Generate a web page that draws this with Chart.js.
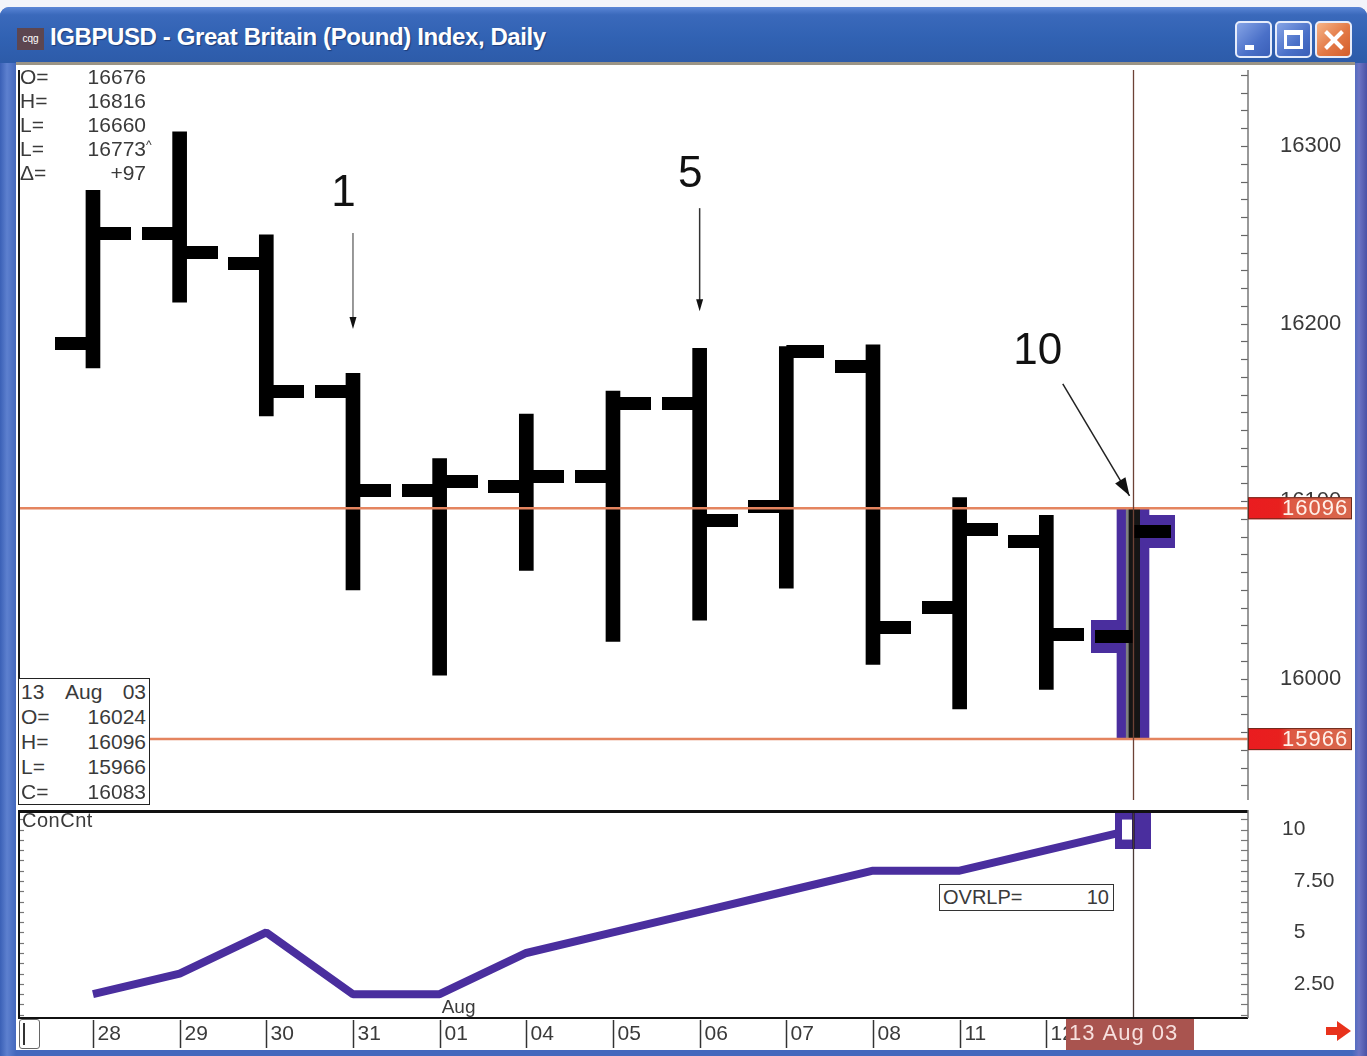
<!DOCTYPE html>
<html>
<head>
<meta charset="utf-8">
<title>IGBPUSD - Great Britain (Pound) Index, Daily</title>
<script src="https://cdn.jsdelivr.net/npm/chart.js@4.4.1/dist/chart.umd.min.js"></script>
<style>
  html, body { margin:0; padding:0; }
  body { width:1367px; height:1056px; position:relative; overflow:hidden; background:#f2f4fa; font-family:"Liberation Sans", Arial, sans-serif; }
  #win { position:absolute; left:0; top:7px; width:1367px; height:1049px; border-radius:9px 9px 0 0;
         background:linear-gradient(90deg,#3a60b6 0px,#5d80cf 7px,#4468bd 16px,#4468bd 1352px,#6c74c4 1359px,#4a52a6 1367px); }
  #titlebar { position:absolute; left:0; top:7px; width:1367px; height:56px; border-radius:9px 9px 0 0;
         background:linear-gradient(180deg,#5a86d6 0%,#3a69bb 14%,#3162b3 55%,#2d5ba9 100%); }
  #icon { position:absolute; left:17px; top:28px; width:27px; height:22px; background:#5d4650; color:#fff; font-size:10px; line-height:22px; text-align:center; }
  #title { position:absolute; left:50px; top:23px; color:#fff; font-family:"Liberation Sans", Arial, sans-serif; font-weight:bold; font-size:24px; letter-spacing:-0.4px; text-shadow:1px 1px 1px #1d3c78; white-space:nowrap; }
  .btn { position:absolute; top:21px; width:33px; height:33px; border:2px solid #e6ecfb; border-radius:5px; box-sizing:content-box;
         background:linear-gradient(135deg,#86a4e6 0%,#4a70c8 60%,#3a5fb8 100%); }
  #bmin { left:1235px; } #bmax { left:1275px; }
  #bclose { left:1315px; background:linear-gradient(135deg,#f6b487 0%,#e27845 55%,#d45e2c 100%); }
  #bmin i { position:absolute; left:8px; top:22px; width:9px; height:5px; background:#fff; }
  #bmax i { position:absolute; left:7px; top:7px; border:3px solid #fff; border-top-width:5px; box-sizing:border-box; width:19px; height:19px; }
  #bclose i, #bclose b { position:absolute; left:15px; top:5px; width:4px; height:24px; background:#fff; }
  #bclose i { transform:rotate(45deg); } #bclose b { transform:rotate(-45deg); }
  #inner { position:absolute; left:16px; top:62px; width:1339px; height:988px; background:#fff; border-top:3px solid #9b9486; box-sizing:border-box; }
  canvas { position:absolute; left:0; }
  #c1 { top:65px; } #c2 { top:805px; }
  .ov { position:absolute; color:#3a3a3a; font-size:21px; line-height:24px; white-space:nowrap; }
  .row { position:relative; height:24px; }
  .row .k { position:absolute; left:0; }
  .row .v { position:absolute; right:0; }
  #info1 { left:20px; top:65px; width:126px; }
  #info2 { left:18px; top:678px; width:132px; height:127px; border:1px solid #222; background:#fff; padding:0 3px 0 2px; box-sizing:border-box; }
  #info2 .row { height:25px; line-height:25px; }
  #concnt { left:22px; top:808px; font-size:20px; letter-spacing:0.5px; }
  #ovrlp { left:939px; top:884px; width:175px; height:27px; border:1px solid #333; background:#fff; box-sizing:border-box; font-size:20px; line-height:25px; }
  #ovrlp .k { position:absolute; left:3px; } #ovrlp .v { position:absolute; right:4px; }
  #scrollbox { position:absolute; left:19px; top:1019px; width:21px; height:30px; border:1.5px solid #666; border-radius:3px; background:#fff; box-sizing:border-box; }
  #scrollbox i { position:absolute; left:3px; top:3px; width:2px; height:22px; background:#333; }
  #arrow i { position:absolute; left:1326px; top:1027px; width:12px; height:8px; background:#e8321c; }
  #arrow b { position:absolute; left:1337px; top:1021px; width:0; height:0; border-left:14px solid #e8321c; border-top:10px solid transparent; border-bottom:10px solid transparent; }
</style>
</head>
<body>
<div id="win"></div>
<div id="titlebar"></div>
<div id="icon">cqg</div>
<div id="title">IGBPUSD - Great Britain (Pound) Index, Daily</div>
<div class="btn" id="bmin"><i></i></div>
<div class="btn" id="bmax"><i></i></div>
<div class="btn" id="bclose"><i></i><b></b></div>
<div id="inner"></div>
<canvas id="c1" width="1367" height="740"></canvas>
<canvas id="c2" width="1367" height="245"></canvas>

<div class="ov" id="info1">
  <div class="row"><span class="k">O=</span><span class="v">16676</span></div>
  <div class="row"><span class="k">H=</span><span class="v">16816</span></div>
  <div class="row"><span class="k">L=</span><span class="v">16660</span></div>
  <div class="row"><span class="k">L=</span><span class="v">16773<span style="position:absolute;left:100%;top:-4px;font-size:12px;">^</span></span></div>
  <div class="row"><span class="k">Δ=</span><span class="v">+97</span></div>
</div>
<div class="ov" id="info2">
  <div class="row"><span class="k">13</span><span style="position:absolute;left:44px;">Aug</span><span class="v">03</span></div>
  <div class="row"><span class="k">O=</span><span class="v">16024</span></div>
  <div class="row"><span class="k">H=</span><span class="v">16096</span></div>
  <div class="row"><span class="k">L=</span><span class="v">15966</span></div>
  <div class="row"><span class="k">C=</span><span class="v">16083</span></div>
</div>
<div class="ov" id="concnt">ConCnt</div>
<div class="ov" id="ovrlp"><span class="k">OVRLP=</span><span class="v">10</span></div>
<div id="scrollbox"><i></i></div>
<div id="arrow"><i></i><b></b></div>

<script>
// ---------------- data ----------------
const dates = ['28','29','30','31','01','04','05','06','07','08','11','12','13'];
const cursorLabel = '13 Aug 03';
const monthLabel = 'Aug';
const opens  = [16189,16251,16234,16162,16106,16108,16114,16155,16097,16176,16040,16077,16024];
const highs  = [16275,16308,16250,16172,16124,16149,16162,16186,16187,16188,16102,16092,16096];
const lows   = [16175,16212,16148,16050,16002,16061,16021,16033,16051,16008,15983,15994,15966];
const closes = [16251,16240,16162,16106,16111,16114,16155,16089,16184,16029,16084,16025,16083];
const conCnt = [2,3,5,2,2,4,5,6,7,8,8,9,10];
const priceTicks = [16000,16100,16200,16300];
const cntTicks = [2.5,5,7.5,10];
const cntTickLabels = ['\u20072.50','\u20075','\u20077.50','10'];
const levelLines = [16096,15966];
const cursorIndex = 12;
const noteLabels = ['1','5','10'];
const noteBars = [3,7,12];

// ---------------- helpers ----------------
const FONT = '"Liberation Sans", Arial, sans-serif';
const PURPLE = '#4a2e9e';
const ORANGE = '#e4845f';
function tickImg(len, thick, side, color){
  const c = document.createElement('canvas');
  c.width = len*2; c.height = thick;
  const g = c.getContext('2d');
  g.fillStyle = color;
  g.fillRect(side === 'left' ? 0 : len, 0, len, thick);
  return c;
}
function markerImg(){
  const c = document.createElement('canvas');
  c.width = 36; c.height = 38;
  const g = c.getContext('2d');
  g.fillStyle = PURPLE; g.fillRect(0,0,36,38);
  g.fillStyle = '#ffffff'; g.fillRect(7,9,13,20);
  g.fillStyle = '#2a1a60'; g.fillRect(17,0,3,38);
  return c;
}
const openTick = tickImg(38, 13, 'left', '#000');
const closeTick = tickImg(38, 13, 'right', '#000');
const openBox = tickImg(42, 33, 'left', PURPLE);
const closeBox = tickImg(42, 33, 'right', PURPLE);

const X_MIN = -0.865, X_MAX = 13.327;
const idx = dates.map((d,i)=>i);
const pts = arr => arr.map((v,i)=>({x:i, y:v}));

function fixAxis(width){
  return function(s){ s.width = width; s.paddingTop = 0; s.paddingBottom = 0; };
}

// ---------------- upper chart plugin ----------------
const upperDeco = {
  id:'upperDeco',
  afterDatasetsDraw(chart){
    const {ctx, chartArea:a, scales:{x,y}} = chart;
    ctx.save();
    ctx.strokeStyle = ORANGE; ctx.lineWidth = 2.5;
    levelLines.forEach(v=>{
      const py = y.getPixelForValue(v);
      ctx.beginPath(); ctx.moveTo(a.left, py); ctx.lineTo(a.right, py); ctx.stroke();
    });
    const cx = Math.round(x.getPixelForValue(cursorIndex)) + 0.5;
    ctx.strokeStyle = '#6d4236'; ctx.lineWidth = 1.3;
    ctx.beginPath(); ctx.moveTo(cx, a.top); ctx.lineTo(cx, a.bottom); ctx.stroke();
    ctx.strokeStyle = '#666'; ctx.lineWidth = 1.2;
    for (let v = 15940; v <= 16340; v += 10){
      const py = Math.round(y.getPixelForValue(v)) + 0.5;
      ctx.beginPath(); ctx.moveTo(a.right - 7, py); ctx.lineTo(a.right, py); ctx.stroke();
    }
    ctx.fillStyle = '#111';
    ctx.font = '44px ' + FONT;
    ctx.textAlign = 'center'; ctx.textBaseline = 'middle';
    [0,1].forEach(k=>{
      const bi = noteBars[k];
      const px = x.getPixelForValue(bi);
      const tx = x.getPixelForValue(bi - 0.11);
      const hi = highs[bi];
      const ty = y.getPixelForValue(hi + (k===0 ? 101 : 98));
      ctx.fillText(noteLabels[k], tx, ty);
      const y1 = y.getPixelForValue(hi + 79);
      const y2 = y.getPixelForValue(hi + (k===0 ? 25 : 21));
      ctx.strokeStyle = k===0 ? '#777' : '#333'; ctx.lineWidth = 1.5;
      ctx.beginPath(); ctx.moveTo(px, y1); ctx.lineTo(px, y2 - 8); ctx.stroke();
      ctx.beginPath(); ctx.moveTo(px-3.5, y2-12); ctx.lineTo(px+3.5, y2-12); ctx.lineTo(px, y2); ctx.closePath(); ctx.fill();
    });
    {
      const bi = noteBars[2];
      const tx = x.getPixelForValue(bi - 1.1);
      const ty = y.getPixelForValue(highs[bi] + 88);
      ctx.fillText(noteLabels[2], tx, ty);
      const x1 = x.getPixelForValue(bi - 0.81), y1 = y.getPixelForValue(highs[bi] + 70);
      const x2 = x.getPixelForValue(bi - 0.04), y2 = y.getPixelForValue(highs[bi] + 7);
      ctx.strokeStyle = '#222'; ctx.lineWidth = 1.5;
      ctx.beginPath(); ctx.moveTo(x1, y1); ctx.lineTo(x2, y2); ctx.stroke();
      const ang = Math.atan2(y2-y1, x2-x1);
      ctx.beginPath();
      ctx.moveTo(x2, y2);
      ctx.lineTo(x2 - 18*Math.cos(ang) + 6*Math.sin(ang), y2 - 18*Math.sin(ang) - 6*Math.cos(ang));
      ctx.lineTo(x2 - 18*Math.cos(ang) - 6*Math.sin(ang), y2 - 18*Math.sin(ang) + 6*Math.cos(ang));
      ctx.closePath(); ctx.fill();
    }
    ctx.restore();
  },
  afterDraw(chart){
    const {ctx, chartArea:a, scales:{y}} = chart;
    ctx.save();
    ctx.strokeStyle = '#1a1a1a'; ctx.lineWidth = 2;
    ctx.beginPath(); ctx.moveTo(a.left+1, a.top); ctx.lineTo(a.left+1, a.bottom); ctx.stroke();
    ctx.strokeStyle = '#777'; ctx.lineWidth = 1.5;
    ctx.beginPath(); ctx.moveTo(a.right, a.top); ctx.lineTo(a.right, a.bottom); ctx.stroke();
    ctx.font = '22px ' + FONT;
    ctx.textBaseline = 'middle'; ctx.textAlign = 'left';
    levelLines.forEach(v=>{
      const py = y.getPixelForValue(v);
      const bx = a.right, bw = 104, bh = 22, by = py - bh/2;
      const gr = ctx.createLinearGradient(bx, 0, bx+bw, 0);
      gr.addColorStop(0, '#ea1c20'); gr.addColorStop(0.3, '#e8201e'); gr.addColorStop(0.42, '#dd5a44'); gr.addColorStop(1, '#d8674c');
      ctx.fillStyle = gr; ctx.fillRect(bx, by, bw, bh);
      ctx.strokeStyle = '#6a2a1c'; ctx.lineWidth = 1; ctx.strokeRect(bx+0.5, by+0.5, bw-1, bh-1);
      ctx.fillStyle = '#fff1ea';
      ctx.letterSpacing = '1px';
      ctx.fillText(String(v), bx + 34, py + 1);
      ctx.letterSpacing = '0px';
    });
    ctx.restore();
  }
};

new Chart(document.getElementById('c1'), {
  type:'bar',
  data:{
    datasets:[
      { type:'bar', data:[{x:cursorIndex, y:[lows[cursorIndex], highs[cursorIndex]]}], backgroundColor:PURPLE, barThickness:32, grouped:false, order:6 },
      { type:'line', data:[{x:cursorIndex, y:opens[cursorIndex]}], showLine:false, pointStyle:openBox, pointRadius:3, order:5 },
      { type:'line', data:[{x:cursorIndex, y:closes[cursorIndex]}], showLine:false, pointStyle:closeBox, pointRadius:3, order:5 },
      { type:'bar', data:idx.map(i=>({x:i, y:[lows[i], highs[i]]})),
        backgroundColor:idx.map(i=> i===cursorIndex ? '#151515' : '#000'),
        borderColor:'#808080', borderWidth:idx.map(i=> i===cursorIndex ? {left:3,right:0,top:0,bottom:0} : 0),
        borderSkipped:false, barThickness:14, grouped:false, order:4 },
      { type:'line', data:pts(opens), showLine:false, pointStyle:openTick, pointRadius:3, order:3 },
      { type:'line', data:pts(closes), showLine:false, pointStyle:closeTick, pointRadius:3, order:3 }
    ]
  },
  options:{
    responsive:false, animation:false, events:[],
    layout:{ padding:{ left:18, right:19, top:0, bottom:0 } },
    plugins:{ legend:{display:false}, tooltip:{enabled:false} },
    scales:{
      x:{ type:'linear', min:X_MIN, max:X_MAX, offset:false, display:false },
      y:{ position:'right', min:15931.7, max:16342.8,
          afterBuildTicks: s => { s.ticks = priceTicks.map(v=>({value:v})); },
          afterFit: fixAxis(100),
          grid:{ display:false, drawTicks:false }, border:{ display:false },
          ticks:{ crossAlign:'near', padding:32, color:'#3a3a3a', font:{ family:FONT, size:22 },
                  callback: v => String(v) } }
    }
  },
  plugins:[upperDeco]
});

// ---------------- lower chart ----------------
const lowerDeco = {
  id:'lowerDeco',
  afterDatasetsDraw(chart){
    const {ctx, chartArea:a, scales:{x,y}} = chart;
    ctx.save();
    const cx = Math.round(x.getPixelForValue(cursorIndex)) + 0.5;
    ctx.strokeStyle = '#4a3a36'; ctx.lineWidth = 1.3;
    ctx.beginPath(); ctx.moveTo(cx, a.top); ctx.lineTo(cx, a.bottom); ctx.stroke();
    ctx.strokeStyle = '#777'; ctx.lineWidth = 1.2;
    for (let v = 1; v <= 10.5; v += 0.5){
      const py = Math.round(y.getPixelForValue(v)) + 0.5;
      ctx.beginPath(); ctx.moveTo(a.right - 7, py); ctx.lineTo(a.right, py); ctx.stroke();
      ctx.beginPath(); ctx.moveTo(a.left, py); ctx.lineTo(a.left + 6, py); ctx.stroke();
    }
    ctx.fillStyle = '#3a3a3a';
    ctx.font = '19px ' + FONT; ctx.textAlign = 'left'; ctx.textBaseline = 'bottom';
    ctx.fillText(monthLabel, x.getPixelForValue(4) + 2, a.bottom - 1);
    ctx.restore();
  },
  afterDraw(chart){
    const {ctx, chartArea:a, scales:{x}} = chart;
    ctx.save();
    ctx.strokeStyle = '#111'; ctx.lineWidth = 3;
    ctx.beginPath(); ctx.moveTo(a.left, a.top + 1.5); ctx.lineTo(a.right, a.top + 1.5); ctx.stroke();
    ctx.lineWidth = 2;
    ctx.beginPath(); ctx.moveTo(a.left, a.bottom); ctx.lineTo(a.right, a.bottom); ctx.stroke();
    ctx.beginPath(); ctx.moveTo(a.left + 1, a.top); ctx.lineTo(a.left + 1, a.bottom); ctx.stroke();
    ctx.strokeStyle = '#777'; ctx.lineWidth = 1.5;
    ctx.beginPath(); ctx.moveTo(a.right, a.top); ctx.lineTo(a.right, a.bottom); ctx.stroke();
    const top = a.bottom;
    ctx.font = '21px ' + FONT; ctx.textBaseline = 'middle'; ctx.textAlign = 'left';
    dates.forEach((d,i)=>{
      if (i === cursorIndex) return;
      const px = Math.round(x.getPixelForValue(i)) + 0.5;
      ctx.strokeStyle = '#333'; ctx.lineWidth = 1.5;
      ctx.beginPath(); ctx.moveTo(px, top + 2); ctx.lineTo(px, top + 30); ctx.stroke();
      ctx.fillStyle = '#3a3a3a';
      ctx.fillText(d, px + 4, top + 16);
    });
    const cx = x.getPixelForValue(cursorIndex);
    ctx.fillStyle = '#a9544f';
    ctx.fillRect(cx - 67, top + 1, 128, 31);
    ctx.fillStyle = '#f7e0de';
    ctx.font = '22px ' + FONT;
    ctx.letterSpacing = '1px';
    ctx.fillText(cursorLabel, cx - 64, top + 16);
    ctx.restore();
  }
};

new Chart(document.getElementById('c2'), {
  type:'line',
  data:{
    datasets:[
      { data:[{x:cursorIndex, y:conCnt[cursorIndex]}], showLine:false, pointStyle:markerImg(), pointRadius:3, order:1 },
      { data:pts(conCnt), borderColor:PURPLE, borderWidth:8, pointRadius:0, tension:0,
        borderCapStyle:'butt', borderJoinStyle:'bevel', order:2 }
    ]
  },
  options:{
    responsive:false, animation:false, events:[],
    layout:{ padding:{ left:18, right:19, top:0, bottom:32 } },
    plugins:{ legend:{display:false}, tooltip:{enabled:false} },
    scales:{
      x:{ type:'linear', min:X_MIN, max:X_MAX, offset:false, display:false },
      y:{ position:'right', min:0.84, max:10.95,
          afterBuildTicks: s => { s.ticks = cntTicks.map(v=>({value:v})); },
          afterFit: fixAxis(100),
          grid:{ display:false, drawTicks:false }, border:{ display:false },
          ticks:{ crossAlign:'near', padding:34, color:'#3a3a3a', font:{ family:FONT, size:21 },
                  callback: v => cntTickLabels[cntTicks.indexOf(v)] } }
    }
  },
  plugins:[lowerDeco]
});
</script>
</body>
</html>
